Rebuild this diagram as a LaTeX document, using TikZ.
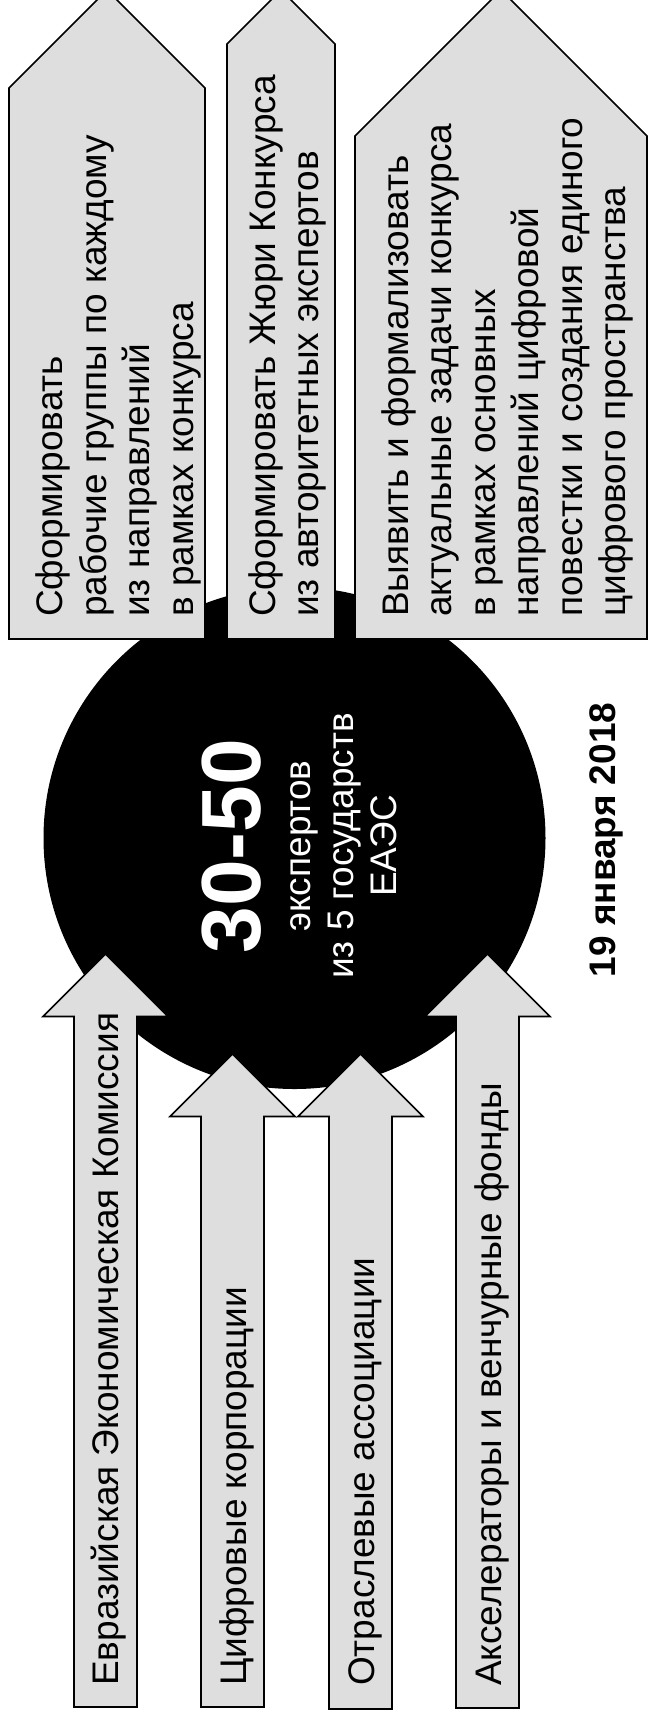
\documentclass[tikz,border=0pt]{standalone}
\usepackage{fontspec}
\setmainfont{Liberation Sans}
\begin{document}
\begin{tikzpicture}[x=1pt,y=-1pt,
  arr/.style={fill=black!13, draw=black, line width=1.6pt, line join=miter},
  lbl/.style={rotate=90, anchor=base west, inner sep=0pt, font=\fontsize{37}{44}\selectfont},
  wlbl/.style={rotate=90, anchor=base, inner sep=0pt, text=white, font=\fontsize{37}{44}\selectfont}]
\useasboundingbox (0,0) rectangle (648,1719);
\clip (0,0) rectangle (648,1719);
\fill[white] (0,0) rectangle (648,1719);
% central disc
\fill[black] (294.5,838) circle[radius=251pt];
% top arrows
\draw[arr] (9,639) -- (9,88) -- (107,-10) -- (205,88) -- (205,639) -- cycle;
\draw[arr] (227,639) -- (227,44) -- (281,-10) -- (335,44) -- (335,639) -- cycle;
\draw[arr] (355,639) -- (355,136) -- (501,-10) -- (647,136) -- (647,639) -- cycle;
% bottom arrows
\draw[arr] (74,1707) -- (74,1016.5) -- (43,1016.5) -- (105.5,954) -- (168,1016.5) -- (137,1016.5) -- (137,1707) -- cycle;
\draw[arr] (201,1707) -- (201,1116.5) -- (170,1116.5) -- (232.5,1054) -- (295,1116.5) -- (264,1116.5) -- (264,1707) -- cycle;
\draw[arr] (329,1709) -- (329,1116.5) -- (298,1116.5) -- (360.5,1054) -- (423,1116.5) -- (392,1116.5) -- (392,1709) -- cycle;
\draw[arr] (456,1708) -- (456,1016.5) -- (425,1016.5) -- (487.5,954) -- (550,1016.5) -- (519,1016.5) -- (519,1708) -- cycle;
% top arrow labels
\node[lbl] (t1a) at (62.5,617) {Сформировать};
\node[lbl] (t1b) at (106,617) {рабочие группы по каждому};
\node[lbl] (t1c) at (149.5,617) {из направлений};
\node[lbl] (t1d) at (193,617) {в рамках конкурса};
\node[lbl] (t2a) at (275,617) {Сформировать Жюри Конкурса};
\node[lbl] (t2b) at (318,617) {из авторитетных экспертов};
\node[lbl] (t3a) at (408,617) {Выявить и формализовать};
\node[lbl] (t3b) at (451.5,617) {актуальные задачи конкурса};
\node[lbl] (t3c) at (495,617) {в рамках основных};
\node[lbl] (t3d) at (538.5,617) {направлений цифровой};
\node[lbl] (t3e) at (582,617) {повестки и создания единого};
\node[lbl] (t3f) at (625.5,617) {цифрового пространства};
% bottom arrow labels
\node[lbl] (bA) at (118,1686) {Евразийская Экономическая Комиссия};
\node[lbl] (bB) at (246,1686) {Цифровые корпорации};
\node[lbl] (bC) at (374,1686) {Отраслевые ассоциации};
\node[lbl] (bD) at (501,1686) {Акселераторы и венчурные фонды};
% disc text
\node[wlbl, font=\bfseries\fontsize{84}{86}\selectfont] (num) at (260,846) {30-50};
\node[wlbl] (s1) at (310,846) {экспертов};
\node[wlbl] (s2) at (353,846) {из 5 государств};
\node[wlbl] (s3) at (396,846) {ЕАЭС};
% date
\node[rotate=90, anchor=base, inner sep=0pt, font=\bfseries\fontsize{37}{44}\selectfont] (date) at (615,840) {19 января 2018};
\end{tikzpicture}
\end{document}
